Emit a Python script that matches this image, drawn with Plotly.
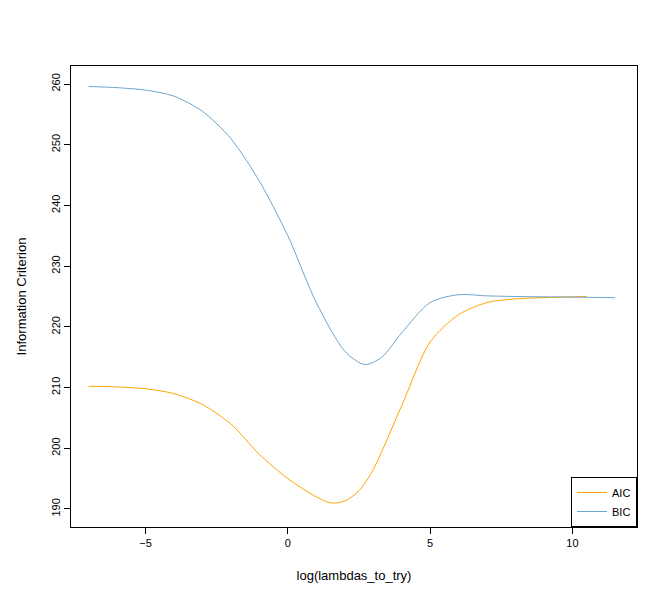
import plotly.graph_objects as go

bic_x = [-7, -6, -5, -4, -3, -2, -1, 0, 1, 2, 2.7, 3.3, 4, 5, 6, 7, 8, 10, 11.5]
bic_y = [259.6, 259.4, 259.0, 258.0, 255.5, 251.0, 244.0, 235.0, 224.0, 216.0, 213.8, 215.0, 219.0, 224.0, 225.3, 225.1, 225.0, 224.9, 224.8]
aic_x = [-7, -6, -5, -4, -3, -2, -1, 0, 1, 1.5, 2, 2.5, 3, 4, 5, 6, 7, 8, 10.5]
aic_y = [210.2, 210.1, 209.8, 209.0, 207.2, 204.0, 199.0, 195.0, 192.0, 191.0, 191.3, 193.0, 196.5, 207.0, 217.5, 222.0, 224.0, 224.6, 225.0]

fig = go.Figure()
fig.add_trace(go.Scatter(x=aic_x, y=aic_y, mode="lines", name="AIC",
                         line=dict(color="#FFA500", width=1, shape="spline", smoothing=0.8)))
fig.add_trace(go.Scatter(x=bic_x, y=bic_y, mode="lines", name="BIC",
                         line=dict(color="#6CA6CD", width=1, shape="spline", smoothing=0.8)))
ax = dict(showgrid=False, zeroline=False, showline=True, linecolor="black", mirror=True,
          ticks="outside", ticklen=6, tickcolor="black", linewidth=1)
fig.update_layout(
    width=660, height=593, plot_bgcolor="white", paper_bgcolor="white",
    margin=dict(l=60, r=31, t=58, b=74),
    font=dict(family="Liberation Sans, Arial", size=11, color="black"),
    xaxis=dict(ax, range=[-7.62, 12.27], tickvals=[-5, 0, 5, 10],
               title=dict(text="log(lambdas_to_try)", standoff=22)),
    yaxis=dict(ax, range=[187.03, 262.97], tickvals=[190, 200, 210, 220, 230, 240, 250, 260],
               tickangle=-90, title=dict(text="Information Criterion", standoff=20)),
    legend=dict(x=1, y=0, xanchor="right", yanchor="bottom", bordercolor="black",
                borderwidth=1, bgcolor="white"),
)
fig.write_html("out.html")
